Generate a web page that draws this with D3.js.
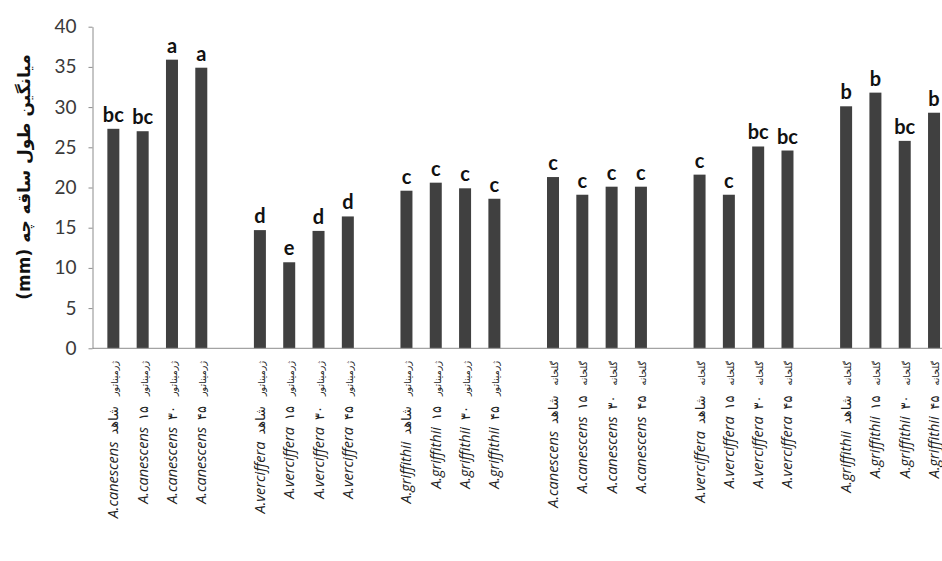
<!DOCTYPE html>
<html><head><meta charset="utf-8">
<script src="https://cdn.jsdelivr.net/npm/d3@7"></script>
<style>body{margin:0;background:#fff}svg{display:block}</style>
</head><body>
<svg id="c" width="942" height="561"></svg>
<script>
const species = ["A.canescens","A.verciffera","A.griffithii","A.canescens","A.verciffera","A.griffithii"];
const locations = ["ژرمیناتور","ژرمیناتور","ژرمیناتور","گلخانه","گلخانه","گلخانه"];
const treatments = ["شاهد","۱۵","۳۰","۴۵"];
const values = [
  [27.3,27.0,35.9,34.9],
  [14.7,10.7,14.6,16.4],
  [19.6,20.6,19.9,18.6],
  [21.3,19.1,20.1,20.1],
  [21.6,19.1,25.1,24.6],
  [30.1,31.8,25.8,29.3]
];
const letters = [
  ["bc","bc","a","a"],
  ["d","e","d","d"],
  ["c","c","c","c"],
  ["c","c","c","c"],
  ["c","c","bc","bc"],
  ["b","b","bc","b"]
];
const yTicks = [0,5,10,15,20,25,30,35,40];
const yTitle = "میانگین طول ساقه چه (mm)";

const svg = d3.select("#c");
const nGroups = species.length, perGroup = treatments.length;
const slotsPerGroup = perGroup + 1;
const nSlots = nGroups*slotsPerGroup - 1;

const rows = [];
values.forEach((g,gi)=>g.forEach((v,ti)=>rows.push({gi,ti,v,slot:gi*slotsPerGroup+ti,letter:letters[gi][ti]})));

const step = 29.31, x0 = 98.7;
const x = d3.scaleBand().domain(d3.range(nSlots)).range([x0, x0+nSlots*step])
  .paddingInner(0.5906).paddingOuter(0.2953);
const y = d3.scaleLinear().domain([0,40]).range([348.3, 26.7]);
const axisX = 92.5;

// y axis
const ya = svg.append("g").attr("transform",`translate(${axisX},0)`)
  .call(d3.axisLeft(y).tickValues(yTicks).tickSize(4).tickSizeOuter(0).tickPadding(12).tickFormat(d3.format("d")));
ya.select(".domain").attr("stroke","#8c8c8c");
ya.selectAll(".tick line").attr("stroke","#8c8c8c");
ya.selectAll(".tick text").attr("font-family","Lato, 'Open Sans', sans-serif").attr("font-size",19).attr("fill","#3a3a3a");

// bars
svg.append("g").selectAll("rect").data(rows).join("rect")
  .attr("x",d=>x(d.slot)).attr("width",x.bandwidth())
  .attr("y",d=>y(d.v)).attr("height",d=>y(0)-y(d.v))
  .attr("fill","#404040");

// x axis line
svg.append("line").attr("x1",axisX).attr("x2",942).attr("y1",y(0)).attr("y2",y(0))
  .attr("stroke","#8c8c8c").attr("stroke-width",1);

// letters
svg.append("g").selectAll("text").data(rows).join("text")
  .attr("x",d=>x(d.slot)+x.bandwidth()/2).attr("y",d=>y(d.v)-7)
  .attr("text-anchor","middle").attr("font-family","Lato, 'Open Sans', sans-serif")
  .attr("font-weight","bold").attr("font-size",20).attr("fill","#111")
  .text(d=>d.letter);

// x labels
const lab = svg.append("g");
rows.forEach(d=>{
  const cx = x(d.slot)+x.bandwidth()/2 + 5;
  const g = lab.append("g").attr("transform",`translate(${cx},361) rotate(-90)`);
  const t3 = g.append("text").attr("font-family","'DejaVu Sans', sans-serif")
    .attr("font-size",9.5).attr("fill","#222").attr("text-anchor","end").attr("x",0).text(locations[d.gi]);
  const w3 = t3.node().getComputedTextLength();
  const o2 = w3 + 10;
  const t2 = g.append("text").attr("font-family","'DejaVu Sans', sans-serif")
    .attr("font-size",13).attr("fill","#222").attr("text-anchor","end")
    .attr("x",-o2).text(treatments[d.ti]);
  const w2 = t2.node().getComputedTextLength();
  g.append("text").attr("font-family","'Open Sans', sans-serif").attr("font-style","italic")
    .attr("font-size",14.5).attr("fill","#222").attr("text-anchor","end")
    .attr("x",-(o2+w2+7)).text(species[d.gi]);
});

// y title
svg.append("text").attr("transform","translate(30,177) rotate(-90)")
  .attr("text-anchor","middle").attr("direction","rtl")
  .attr("font-family","'DejaVu Sans', sans-serif").attr("font-weight","bold")
  .attr("font-size",17).attr("fill","#111").text(yTitle);
</script>
</body></html>
